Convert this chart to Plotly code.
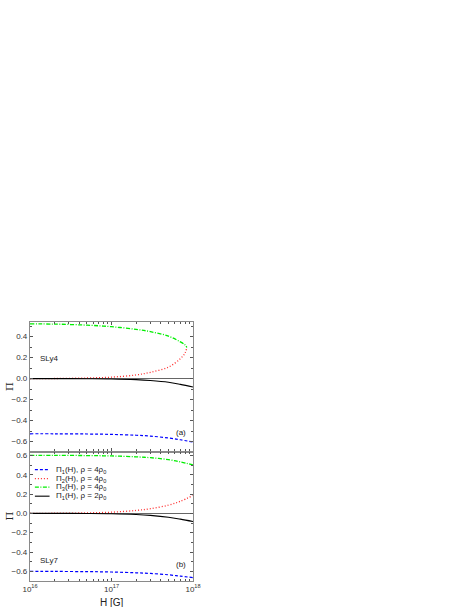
import plotly.graph_objects as go

# ---------------- data ----------------
H_full = [1e16, 2e16, 5e16, 1e17, 2e17, 3e17, 5e17, 7e17, 1e18]
H_turn = [1e16, 2e16, 5e16, 1e17, 2e17, 3e17, 5e17, 7e17, 8e17, 8.4e17]

# Panel (a) SLy4
a_pi1_4 = [-0.526, -0.526, -0.528, -0.532, -0.540, -0.548, -0.566, -0.583, -0.605]
a_pi2_4 = [0.0, 0.001, 0.006, 0.014, 0.035, 0.060, 0.110, 0.190, 0.245, 0.297]
a_pi3_4 = [0.522, 0.520, 0.510, 0.495, 0.470, 0.448, 0.405, 0.350, 0.320, 0.297]
a_pi1_2 = [0.0, 0.0, -0.001, -0.003, -0.010, -0.018, -0.035, -0.055, -0.080]

# Panel (b) SLy7
b_pi1_4 = [-0.600, -0.601, -0.603, -0.607, -0.615, -0.622, -0.636, -0.650, -0.665]
b_pi2_4 = [0.0, 0.001, 0.005, 0.012, 0.030, 0.048, 0.085, 0.125, 0.185]
b_pi3_4 = [0.600, 0.600, 0.598, 0.594, 0.585, 0.576, 0.556, 0.533, 0.500]
b_pi1_2 = [0.0, 0.0, -0.001, -0.004, -0.012, -0.021, -0.040, -0.060, -0.085]

x_tickvals = [1e16, 1e17, 1e18]
x_ticktext = ["10<sup>16</sup>", "10<sup>17</sup>", "10<sup>18</sup>"]
x_minor = [k * 10**e for e in (16, 17) for k in range(2, 10)]

legend_labels = [
    "Π<sub>1</sub>(H), ρ = 4ρ<sub>0</sub>",
    "Π<sub>2</sub>(H), ρ = 4ρ<sub>0</sub>",
    "Π<sub>3</sub>(H), ρ = 4ρ<sub>0</sub>",
    "Π<sub>1</sub>(H), ρ = 2ρ<sub>0</sub>",
]

# ---------------- styles ----------------
BLUE, RED, GREEN, BLACK = "#0000ff", "#ff2a2a", "#00ee00", "#000000"
styles = [
    dict(color=BLUE, dash="3px,2px", width=1.2),
    dict(color=RED, dash="1px,2px", width=1.3),
    dict(color=GREEN, dash="4px,1.5px,1px,1.5px", width=1.3),
    dict(color=BLACK, dash="solid", width=1.1),
]
FONT = "Liberation Sans, Arial, sans-serif"
FRAME = "#8a8a8a"

fig = go.Figure()

panels = [
    ("x", "y", [H_full, H_turn, H_turn, H_full], [a_pi1_4, a_pi2_4, a_pi3_4, a_pi1_2]),
    ("x2", "y2", [H_full, H_full, H_full, H_full], [b_pi1_4, b_pi2_4, b_pi3_4, b_pi1_2]),
]
for xa, ya, xs, ys in panels:
    for i in range(4):
        fig.add_trace(go.Scatter(
            x=xs[i], y=ys[i], mode="lines", line=dict(shape="spline", **styles[i]),
            xaxis=xa, yaxis=ya, showlegend=False, hoverinfo="skip"))

axis_common = dict(
    showline=True, linecolor=FRAME, linewidth=1.2, mirror="allticks",
    ticks="inside", ticklen=3, tickcolor="#555555", tickwidth=1,
    showgrid=False, tickfont=dict(family=FONT, size=8, color="#333333"),
)

xcommon = dict(axis_common, type="log", range=[16, 18], tickvals=x_tickvals,
               minor=dict(tickmode="array", tickvals=x_minor, ticks="inside",
                          ticklen=2, tickcolor="#555555", showgrid=False))
ycommon = dict(axis_common, dtick=0.2, tickformat=".1f", zeroline=True,
               zerolinecolor="#666666", zerolinewidth=1.1,
               minor=dict(dtick=0.1, ticks="inside", ticklen=2,
                          tickcolor="#555555", showgrid=False))

fig.update_layout(
    width=469, height=607,
    paper_bgcolor="white", plot_bgcolor="white",
    margin=dict(l=28, r=276, t=322, b=26),
    showlegend=False,
    xaxis=dict(xcommon, domain=[0, 1], anchor="y", showticklabels=False),
    yaxis=dict(ycommon, domain=[0.5, 1], range=[-0.695, 0.54], anchor="x"),
    xaxis2=dict(xcommon, domain=[0, 1], anchor="y2", ticktext=x_ticktext),
    yaxis2=dict(ycommon, domain=[0, 0.5], range=[-0.70, 0.64], anchor="x2"),
)

ann_font = dict(family=FONT, size=8, color="#222222")
annotations = [
    dict(text="SLy4", xref="x domain", yref="y domain", x=0.05, y=0.72,
         xanchor="left", yanchor="middle", showarrow=False, font=ann_font),
    dict(text="(a)", xref="x domain", yref="y domain", x=0.97, y=0.15,
         xanchor="right", yanchor="middle", showarrow=False, font=ann_font),
    dict(text="SLy7", xref="x2 domain", yref="y2 domain", x=0.05, y=0.155,
         xanchor="left", yanchor="middle", showarrow=False, font=ann_font),
    dict(text="(b)", xref="x2 domain", yref="y2 domain", x=0.97, y=0.13,
         xanchor="right", yanchor="middle", showarrow=False, font=ann_font),
    dict(text="Π", xref="paper", yref="y domain", x=-0.127, y=0.5,
         xanchor="center", yanchor="middle", showarrow=False, textangle=-90,
         font=dict(family="DejaVu Serif, serif", size=10, color="#222222")),
    dict(text="Π", xref="paper", yref="y2 domain", x=-0.127, y=0.5,
         xanchor="center", yanchor="middle", showarrow=False, textangle=-90,
         font=dict(family="DejaVu Serif, serif", size=10, color="#222222")),
    dict(text="H [G]", xref="paper", yref="paper", x=0.5, y=-0.083,
         xanchor="center", yanchor="middle", showarrow=False,
         font=dict(family=FONT, size=10, color="#222222")),
]

# manual legend inside panel (b)
leg_y = [0.86, 0.79, 0.725, 0.655]
for i, lab in enumerate(legend_labels):
    fig.add_shape(type="line", xref="x2 domain", yref="y2 domain",
                  x0=0.03, x1=0.12, y0=leg_y[i], y1=leg_y[i],
                  line=dict(color=styles[i]["color"], dash=styles[i]["dash"],
                            width=styles[i]["width"]))
    annotations.append(dict(text=lab, xref="x2 domain", yref="y2 domain",
                            x=0.145, y=leg_y[i], xanchor="left", yanchor="middle",
                            showarrow=False,
                            font=dict(family=FONT, size=8, color="#222222")))

fig.update_layout(annotations=annotations)
fig.write_html("out.html", config={"displayModeBar": False},
               post_script="document.body.style.margin='0px';")
